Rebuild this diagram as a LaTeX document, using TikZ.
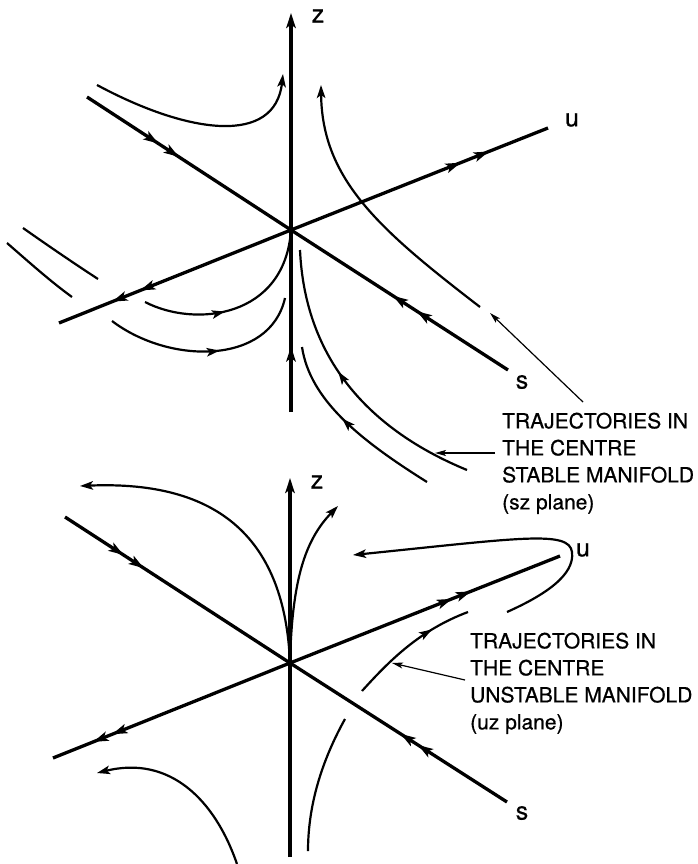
\documentclass[tikz,border=0pt]{standalone}
\usepackage{fontspec}
\setmainfont{TeX Gyre Heros}
\newfontfamily\lettering[FakeBold=0.6]{TeX Gyre Heros}
\usetikzlibrary{arrows.meta,decorations.markings}
\tikzset{
  ax/.tip={Stealth[length=15pt,width=9.5pt,inset=3.5pt]},
  tr/.tip={Stealth[length=13pt,width=8.5pt,inset=3pt]},
  axis/.style={line width=3.3pt},
  traj/.style={line width=2.2pt},
  lead/.style={line width=1.2pt,-{Stealth[length=11pt,width=6pt,inset=2.5pt]}},
  lbl/.style={font=\lettering\fontsize{21}{27}\selectfont,inner sep=0pt,anchor=north west,align=left},
  axlbl/.style={font=\lettering\fontsize{25}{28}\selectfont,inner sep=0pt},
  mone/.style={postaction={decorate,decoration={markings,mark=at position #1 with {\arrow{ax}}}}},
  mtwo/.style 2 args={postaction={decorate,decoration={markings,mark=at position #1 with {\arrow{ax}},mark=at position #2 with {\arrow{ax}}}}},
  tone/.style={postaction={decorate,decoration={markings,mark=at position #1 with {\arrow{tr}}}}},
}
\begin{document}
\begin{tikzpicture}[x=1pt,y=-1pt]
\useasboundingbox (0,0) rectangle (698,864);
% ---------------- top figure ----------------
\coordinate (O1) at (291,230);
\coordinate (z1b) at (291,412);
\coordinate (z1t) at (291,13);
\coordinate (u1r) at (548,128);
\coordinate (u1l) at (59,323);
\coordinate (s1l) at (87,97);
\coordinate (s1r) at (508,370);
\draw[axis,mone=0.36] (z1b) -- (O1);
\draw[axis,-{ax}] (O1) -- (z1t);
\draw[axis,mtwo={0.66}{0.77}] (O1) -- (u1r);
\draw[axis,mtwo={0.65}{0.77}] (O1) -- (u1l);
\draw[axis,mtwo={0.35}{0.45}] (s1l) -- (O1);
\draw[axis,mtwo={0.42}{0.53}] (s1r) -- (O1);
\node[axlbl] (zl1) at (318,16) {z};
\node[axlbl] (ul1) at (572,120) {u};
\node[axlbl] (sl1) at (522,382) {s};
% trajectories
\draw[traj,-{tr}] (97,85) .. controls (190,135) and (275,145) .. (283,74);
\draw[traj,-{tr}] (480,307) .. controls (380,230) and (322,180) .. (321,85);
\draw[traj,tone=0.42] (145,302) .. controls (195,328) and (285,318) .. (O1);
\draw[traj,tone=0.56] (112,321) .. controls (170,365) and (270,365) .. (285,298);
\draw[traj,tone=0.56] (467,470) .. controls (370,430) and (305,360) .. (300,250);
\draw[traj,tone=0.56] (427,482) .. controls (360,440) and (310,400) .. (302,347);
\draw[traj] (7,243) .. controls (30,263) and (50,281) .. (72,297);
\draw[traj] (23,228) .. controls (50,247) and (75,264) .. (98,279);
% label
\node[lbl] (labA) at (502,412.5) {TRAJECTORIES IN\\THE CENTRE\\STABLE MANIFOLD\\(sz plane)};
\coordinate (la1) at (583,402);
\coordinate (ta1) at (490,313);
\coordinate (la2) at (495,453);
\coordinate (ta2) at (435,453);
\draw[lead] (la1) -- (ta1);
\draw[lead] (la2) -- (ta2);
% ---------------- bottom figure ----------------
\coordinate (O2) at (290,663);
\coordinate (z2b) at (290,857);
\coordinate (z2t) at (290,478);
\coordinate (u2r) at (560,556);
\coordinate (u2l) at (53,758);
\coordinate (s2l) at (65,517);
\coordinate (s2r) at (507,802);
\draw[axis] (z2b) -- (O2);
\draw[axis,-{ax}] (O2) -- (z2t);
\draw[axis,mtwo={0.60}{0.67}] (O2) -- (u2r);
\draw[axis,mtwo={0.75}{0.83}] (O2) -- (u2l);
\draw[axis,mtwo={0.26}{0.35}] (s2l) -- (O2);
\draw[axis,mtwo={0.41}{0.49}] (s2r) -- (O2);
\node[axlbl] (zl2) at (317,482) {z};
\node[axlbl] (ul2) at (583,550) {u};
\node[axlbl] (sl2) at (522,813) {s};
% trajectories
\draw[traj,-{tr}] (O2) .. controls (285,540) and (220,480) .. (80,486);
\draw[traj,-{tr}] (O2) .. controls (292,580) and (305,540) .. (338,506);
\draw[traj,-{tr}] (507,612) .. controls (545,595) and (575,575) .. (572,552) .. controls (569,530) and (520,538) .. (353,555);
\draw[traj,tone=0.70] (362,691) .. controls (390,660) and (420,630) .. (468,612);
\draw[traj,-{tr}] (237,864) .. controls (215,800) and (170,755) .. (97,773);
\draw[traj] (345,719) .. controls (325,755) and (308,800) .. (308,851);
% label
\node[lbl] (labB) at (470,632.5) {TRAJECTORIES IN\\THE CENTRE\\UNSTABLE MANIFOLD\\(uz plane)};
\coordinate (lb1) at (465,680);
\coordinate (tb1) at (392,663);
\draw[lead] (lb1) -- (tb1);
\end{tikzpicture}
\end{document}
